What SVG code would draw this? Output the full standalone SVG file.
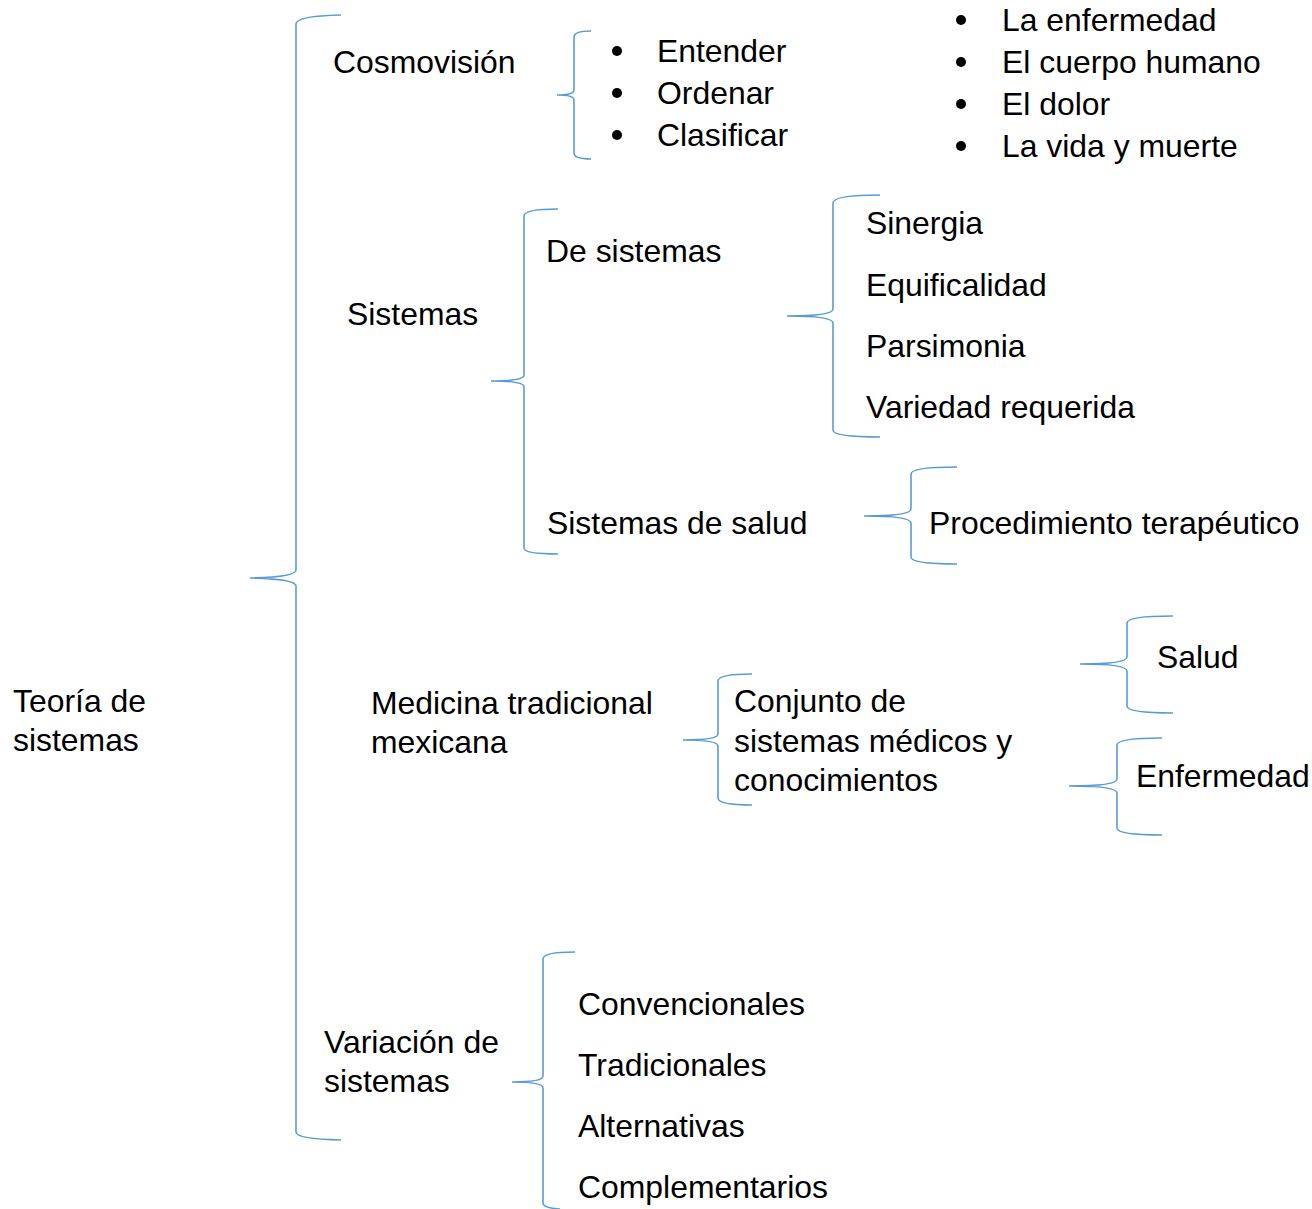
<svg xmlns="http://www.w3.org/2000/svg" width="1312" height="1209" viewBox="0 0 1312 1209">
<style>
text{font-family:"Liberation Sans",Arial,sans-serif;font-size:31.9px;fill:#000}
.b{fill:none;stroke:#5b9bd5;stroke-width:1.6}
.d{fill:#000}
</style>
<rect width="1312" height="1209" fill="#fff"/>
<g id="connectors">
<path class="b" d="M341,15 Q296,16 296,24 L296,570 Q296,577 250,578 Q296,579 296,586 L296,1132 Q296,1139 341,1140"/>
<path class="b" d="M591,31 Q574,31 574,37 L574,90 Q574,95 557,95 Q574,95 574,100 L574,153 Q574,159 591,159"/>
<path class="b" d="M558,209 Q524,209 524,216 L524,375 Q524,381 491,381 Q524,381 524,387 L524,548 Q524,554 558,554"/>
<path class="b" d="M880,195 Q833,195 833,203 L833,309 Q833,316 787,316 Q833,316 833,323 L833,430 Q833,437 880,437"/>
<path class="b" d="M957,467 Q911,467 911,474 L911,509 Q911,516 864,516 Q911,516 911,523 L911,557 Q911,564 957,564"/>
<path class="b" d="M752,674 Q718,674 718,681 L718,734 Q718,740 683,740 Q718,740 718,746 L718,798 Q718,805 752,805"/>
<path class="b" d="M1173,616 Q1127,616 1127,623 L1127,657 Q1127,664 1080,664 Q1127,664 1127,671 L1127,706 Q1127,713 1173,713"/>
<path class="b" d="M1162,738 Q1117,738 1117,745 L1117,779 Q1117,786 1069,786 Q1117,786 1117,793 L1117,828 Q1117,835 1162,835"/>
<path class="b" d="M575,952 Q543,952 543,959 L543,1076 Q543,1082 512,1082 Q543,1082 543,1088 L543,1203 Q543,1208 560,1209"/>
</g>
<g id="root"><text x="13" y="712">Teoría de</text><text x="13" y="751">sistemas</text></g>
<g id="cosmovision"><text x="333" y="73">Cosmovisión</text></g>
<g id="cosmo-items">
<circle class="d" cx="617" cy="51" r="5"/><text x="657" y="62">Entender</text>
<circle class="d" cx="617" cy="93" r="5"/><text x="657" y="104">Ordenar</text>
<circle class="d" cx="617" cy="135" r="5"/><text x="657" y="146">Clasificar</text>
</g>
<g id="cosmo-topics">
<circle class="d" cx="961" cy="20" r="5"/><text x="1002" y="31">La enfermedad</text>
<circle class="d" cx="961" cy="62" r="5"/><text x="1002" y="73">El cuerpo humano</text>
<circle class="d" cx="961" cy="104" r="5"/><text x="1002" y="115">El dolor</text>
<circle class="d" cx="961" cy="146" r="5"/><text x="1002" y="157">La vida y muerte</text>
</g>
<g id="sistemas"><text x="347" y="325">Sistemas</text></g>
<g id="de-sistemas"><text x="546" y="262">De sistemas</text></g>
<g id="propiedades">
<text x="866" y="234">Sinergia</text>
<text x="866" y="296">Equificalidad</text>
<text x="866" y="357">Parsimonia</text>
<text x="866" y="418">Variedad requerida</text>
</g>
<g id="sistemas-salud"><text x="547" y="534">Sistemas de salud</text></g>
<g id="procedimiento"><text x="929" y="534">Procedimiento terapéutico</text></g>
<g id="medicina"><text x="371" y="714">Medicina tradicional</text><text x="371" y="753">mexicana</text></g>
<g id="conjunto"><text x="734" y="712">Conjunto de</text><text x="734" y="752">sistemas médicos y</text><text x="734" y="791">conocimientos</text></g>
<g id="salud"><text x="1157" y="668">Salud</text></g>
<g id="enfermedad"><text x="1136" y="787">Enfermedad</text></g>
<g id="variacion"><text x="324" y="1053">Variación de</text><text x="324" y="1092">sistemas</text></g>
<g id="tipos">
<text x="578" y="1015">Convencionales</text>
<text x="578" y="1076">Tradicionales</text>
<text x="578" y="1137">Alternativas</text>
<text x="578" y="1198">Complementarios</text>
</g>
</svg>
